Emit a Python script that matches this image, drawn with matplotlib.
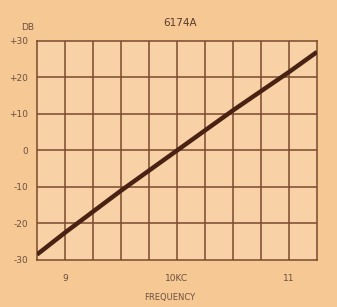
import matplotlib
matplotlib.use("Agg")
import matplotlib.pyplot as plt

# response curve
freq_kc = [8.75, 9.0, 9.5, 10.0, 10.5, 11.0, 11.25]
level_db = [-28.5, -22.5, -11.0, 0.0, 11.0, 21.5, 27.0]

x_ticks = [9, 10, 11]
x_labels = ["9", "10KC", "11"]
y_ticks = [-30, -20, -10, 0, 10, 20, 30]
y_labels = ["-30", "-20", "-10", "0", "+10", "+20", "+30"]

bg = "#f5c894"
grid_col = "#7a4a2c"
ink = "#6e5040"

fig = plt.figure(figsize=(3.37, 3.07), dpi=100)
fig.patch.set_facecolor(bg)
ax = fig.add_axes([0.1098, 0.1531, 0.8309, 0.7134])
ax.set_facecolor("#f8d2a6")

ax.plot(freq_kc, level_db, color="#4a2214", linewidth=3.2, solid_capstyle="butt", zorder=3)

ax.set_xlim(8.75, 11.25)
ax.set_ylim(-30, 30)

# grid: 10 columns, 6 rows
for i in range(1, 10):
    ax.axvline(8.75 + 0.25 * i, color=grid_col, linewidth=1.1, zorder=1)
for v in range(-20, 30, 10):
    ax.axhline(v, color=grid_col, linewidth=1.1, zorder=1)
for s in ax.spines.values():
    s.set_color(grid_col)
    s.set_linewidth(1.1)

ax.set_xticks(x_ticks)
ax.set_xticklabels(x_labels)
ax.set_yticks(y_ticks)
ax.set_yticklabels(y_labels)
ax.tick_params(axis="x", length=0, labelsize=6.5, labelcolor=ink, pad=10)
ax.tick_params(axis="y", length=0, labelsize=6.5, labelcolor=ink, pad=6.5)

fig.text(0.534, 0.925, "6174A", ha="center", va="center", fontsize=7.5, color="#5a3a2a")
fig.text(0.083, 0.912, "DB", ha="center", va="center", fontsize=6.5, color=ink)
fig.text(0.505, 0.030, "FREQUENCY", ha="center", va="center", fontsize=6, color=ink)

fig.savefig("out.png", dpi=100, facecolor=bg)
